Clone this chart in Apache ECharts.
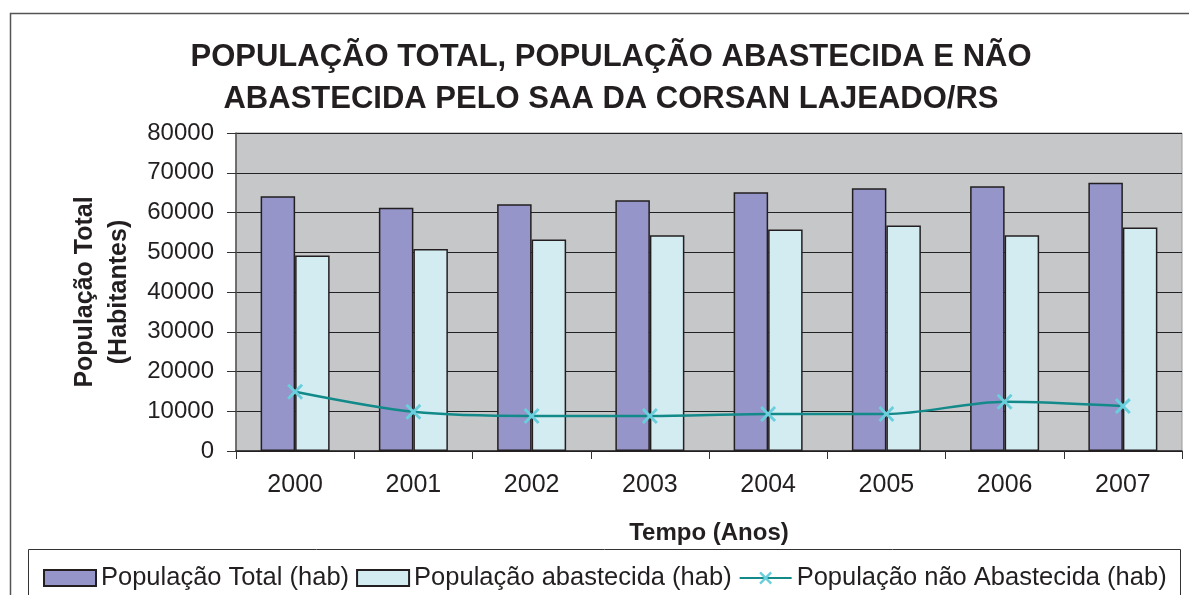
<!DOCTYPE html>
<html>
<head>
<meta charset="utf-8">
<script src="https://cdn.jsdelivr.net/npm/echarts@6/dist/echarts.min.js"></script>
<style>
  html, body { margin: 0; padding: 0; background: #fff; }
  #chart { width: 1189px; height: 595px; }
</style>
</head>
<body>
<div id="chart"></div>
<script>
// data
const years = ['2000', '2001', '2002', '2003', '2004', '2005', '2006', '2007']
const popTotal = [64100, 61200, 62100, 63100, 65100, 66100, 66600, 67500]
const popAbastecida = [49200, 50800, 53200, 54300, 55700, 56700, 54300, 56200]
const popNaoAbastecida = [14900, 9850, 8800, 8800, 9300, 9300, 12400, 11300]
const yTicks = { min: 0, max: 80000, interval: 10000 }

const font = 'Arial, "Liberation Sans", sans-serif'
const crossPath = 'path://M0,1.3L1.3,0L5,3.7L8.7,0L10,1.3L6.3,5L10,8.7L8.7,10L5,6.3L1.3,10L0,8.7L3.7,5Z'

const chart = echarts.init(document.getElementById('chart'))
chart.setOption({
  animation: false,
  backgroundColor: '#fff',
  title: {
    text: 'POPULAÇÃO TOTAL, POPULAÇÃO ABASTECIDA E NÃO\nABASTECIDA PELO SAA DA CORSAN LAJEADO/RS',
    left: 606,
    top: 31,
    textAlign: 'center',
    textStyle: {
      fontFamily: font,
      fontSize: 31,
      fontWeight: 'bold',
      color: '#231F20',
      lineHeight: 42
    }
  },
  graphic: [
    {
      type: 'rect',
      shape: { x: 10.5, y: 13.5, width: 1200, height: 600 },
      style: { fill: 'none', stroke: '#555', lineWidth: 1.5 },
      silent: true
    },
    {
      type: 'rect',
      shape: { x: 28.5, y: 549.5, width: 1152, height: 60 },
      style: { fill: 'none', stroke: '#333', lineWidth: 1 },
      silent: true
    }
  ],
  legend: {
    left: 38,
    top: 560,
    itemWidth: 52,
    itemHeight: 16,
    itemGap: 7,
    textStyle: { fontFamily: font, fontSize: 25.5, color: '#231F20' },
    data: [
      { name: 'População Total (hab)', icon: 'rect' },
      { name: 'População abastecida (hab)', icon: 'rect' },
      { name: 'População não Abastecida (hab)' }
    ]
  },
  grid: {
    left: 236,
    top: 133,
    right: 7,
    bottom: 144,
    show: true,
    backgroundColor: '#C6C7C9',
    borderColor: '#9a9a9a',
    borderWidth: 1
  },
  xAxis: {
    type: 'category',
    data: years,
    name: 'Tempo (Anos)',
    nameLocation: 'middle',
    nameGap: 70,
    nameTextStyle: { fontFamily: font, fontSize: 24, fontWeight: 'bold', color: '#231F20' },
    axisLine: { lineStyle: { color: '#231F20', width: 1.5 } },
    axisTick: { show: true, length: 8, lineStyle: { color: '#333' } },
    axisLabel: { fontFamily: font, fontSize: 25, color: '#231F20', margin: 22 }
  },
  yAxis: {
    type: 'value',
    min: yTicks.min,
    max: yTicks.max,
    interval: yTicks.interval,
    name: 'População Total\n(Habitantes)',
    nameLocation: 'middle',
    nameGap: 98,
    nameTextStyle: { fontFamily: font, fontSize: 25, fontWeight: 'bold', color: '#231F20', lineHeight: 34 },
    axisLine: { show: true, lineStyle: { color: '#555', width: 1.5 } },
    axisTick: { show: true, length: 9, lineStyle: { color: '#333' } },
    axisLabel: {
      fontFamily: font,
      fontSize: 24,
      color: '#231F20',
      margin: 22,
      formatter: v => String(v)
    },
    splitLine: { show: true, lineStyle: { color: '#222', width: 1 } }
  },
  series: [
    {
      name: 'População Total (hab)',
      type: 'bar',
      data: popTotal,
      barWidth: 34.5,
      barGap: '0%',
      itemStyle: { color: '#9595C9', borderColor: '#231F20', borderWidth: 1.5 }
    },
    {
      name: 'População abastecida (hab)',
      type: 'bar',
      data: popAbastecida,
      barWidth: 34.5,
      barGap: '0%',
      itemStyle: { color: '#D3ECF2', borderColor: '#231F20', borderWidth: 1.5 }
    },
    {
      name: 'População não Abastecida (hab)',
      type: 'line',
      data: popNaoAbastecida,
      smooth: 0.3,
      symbol: crossPath,
      symbolSize: 16,
      lineStyle: { color: '#138A8A', width: 2.5 },
      itemStyle: { color: '#6ACFDC' },
      z: 5
    }
  ]
})
</script>
</body>
</html>
